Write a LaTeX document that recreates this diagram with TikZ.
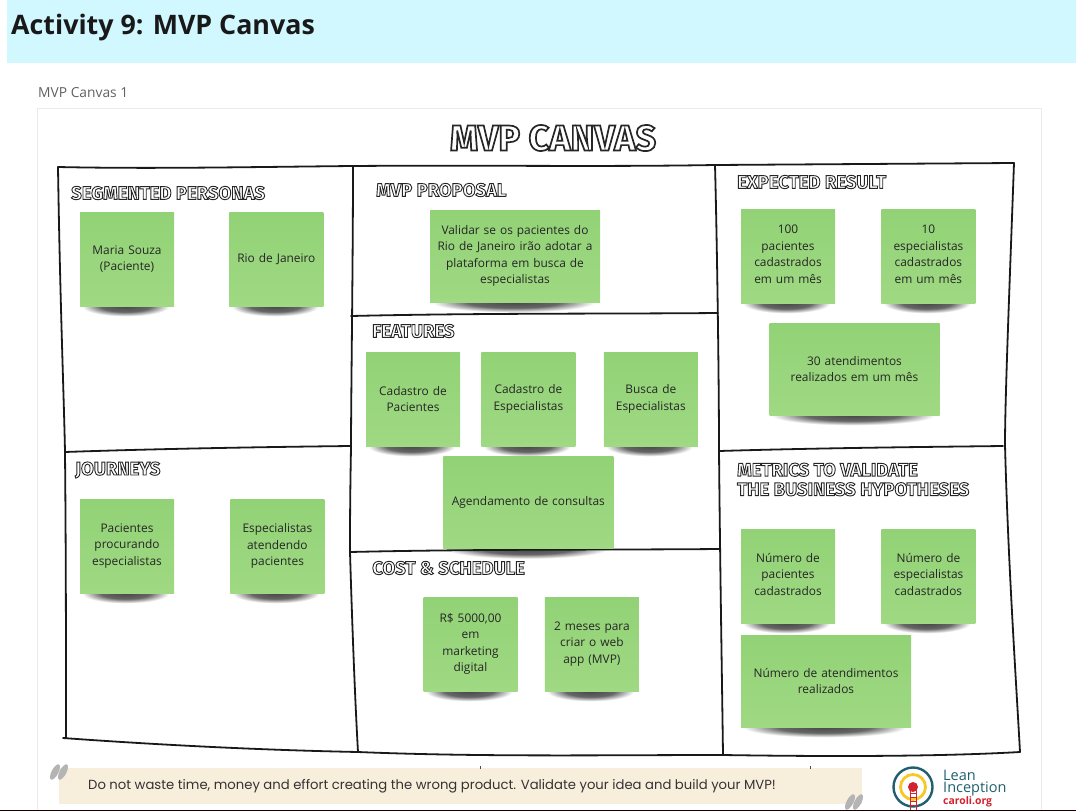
\documentclass[tikz,border=0pt]{standalone}
\usepackage{fontspec}
\setmainfont{Open Sans}
\newfontfamily\headfont{Fira Sans}
\newfontfamily\notefont{Poppins}
\usetikzlibrary{positioning,backgrounds}
\definecolor{headerblue}{HTML}{D1F7FF}
\definecolor{stickytop}{HTML}{92D276}
\definecolor{stickybottom}{HTML}{9FD983}
\definecolor{bannerbeige}{HTML}{F8EEDC}
\definecolor{quotegray}{HTML}{B4B4B4}
\definecolor{logoteal}{HTML}{1F5F6E}
\definecolor{logoyellow}{HTML}{F5C928}
\definecolor{logored}{HTML}{D3212D}
\pgfdeclareradialshading{stickyshadow}{\pgfpoint{0bp}{0bp}}{color(0bp)=(black!72); color(14bp)=(black!60); color(25bp)=(white); color(50bp)=(white)}
\tikzset{
  sticky/.style={top color=stickytop,bottom color=stickybottom,inner sep=2pt,
    align=center,font=\fontsize{11.9}{16.5}\selectfont,text=black!85,
    minimum width=94pt,minimum height=94pt,text width=88pt},
  wide/.style={minimum width=170pt,minimum height=92pt,text width=160pt},
  heading/.style={anchor=west,inner sep=0pt,align=left,text=white,
    font=\headfont\bfseries\fontsize{18.5}{19.5}\selectfont},
  canvasline/.style={draw=black!90,line width=1.8pt,line cap=round},
}
\newcommand{\outlined}[2]{\special{pdf:code 2 Tr #1 w 0.15 0.15 0.15 RG}#2\special{pdf:code 0 Tr 1 w}}
\newcommand{\lifted}{\rule[-4pt]{0pt}{4pt}}
\newcommand{\newSticky}[4]{
  \node[sticky,#3](#1)[#4]{#2};
  \begin{scope}[on background layer]
    \shade[shading=stickyshadow] ([xshift=2pt,yshift=10pt]#1.south west) rectangle ([xshift=-5pt,yshift=-10pt]#1.south east);
  \end{scope}}
\newcommand{\newHeading}[3]{\node[heading](#1) at (#2){\outlined{0.9}{#3}};}
\begin{document}
\begin{tikzpicture}[x=1pt,y=-1pt]
  \useasboundingbox (0,0) rectangle (1076,811);
  % page
  \fill[headerblue] (7,0) rectangle (1076,63);
  \draw[black!8] (37,108) rectangle (1041,815);
  \node[anchor=west,inner sep=0pt,font=\bfseries\fontsize{26.8}{30}\selectfont,text=black!90](activity) at (11,27.5){Activity 9: MVP Canvas};
  \node[anchor=west,inner sep=0pt,font=\fontsize{13.8}{15}\selectfont,text=black!62](canvasname) at (38,93){MVP Canvas 1};
  \node[inner sep=0pt,text=white,font=\headfont\bfseries\fontsize{36}{38}\selectfont](title) at (553,138){\outlined{1.7}{MVP CANVAS}};

  % canvas lines
  \coordinate (tl) at (58,167);
  \coordinate (tm) at (353,166);
  \coordinate (tn) at (715,165);
  \coordinate (tr) at (1014,163);
  \coordinate (bl) at (63,738);
  \coordinate (bm) at (358,752);
  \coordinate (bn) at (723,755);
  \coordinate (br) at (1020,752);
  \draw[canvasline] (tl) .. controls (150,169) and (250,167) .. (tm) .. controls (480,165) and (600,167) .. (tn) -- (tr);
  \draw[canvasline] (tl) .. controls (60,300) and (64,400) .. (65,452) .. controls (66,560) and (66,650) .. (66,738);
  \draw[canvasline] (bl) .. controls (160,745) and (260,750) .. (bm) .. controls (480,757) and (600,755) .. (bn) .. controls (850,757) and (950,756) .. (br);
  \draw[canvasline] (tm) .. controls (353,260) and (351,400) .. (351,448) .. controls (350,500) and (350,530) .. (350,552) .. controls (352,620) and (355,700) .. (bm);
  \draw[canvasline] (tn) .. controls (717,240) and (719,380) .. (719,450) .. controls (720,560) and (722,680) .. (bn);
  \draw[canvasline] (tr) .. controls (1009,300) and (1005,400) .. (1005,445) .. controls (1008,560) and (1016,680) .. (br);
  \draw[canvasline] (65,452) .. controls (150,449) and (260,447) .. (351,446);
  \draw[canvasline] (351,316) .. controls (480,313) and (600,314) .. (718,313);
  \draw[canvasline] (350,552) .. controls (480,549) and (600,550) .. (719,549);
  \draw[canvasline] (719,451) .. controls (820,448) and (920,447) .. (1003,446);

  % headings
  \newHeading{personasHead}{71,193}{SEGMENTED PERSONAS}
  \newHeading{journeysHead}{75,470}{JOURNEYS}
  \newHeading{proposalHead}{376,190}{MVP PROPOSAL}
  \newHeading{featuresHead}{372,331}{FEATURES}
  \newHeading{costHead}{372,568}{COST \& SCHEDULE}
  \newHeading{resultHead}{737,182}{EXPECTED RESULT}
  \newHeading{metricsHead}{737,479.5}{METRICS TO VALIDATE\\THE BUSINESS HYPOTHESES}

  % personas and journeys
  \newSticky{maria}{Maria Souza\\(Paciente)}{at={(127,259)}}{}
  \newSticky{rio}{Rio de Janeiro}{}{right=55pt of maria}
  \newSticky{pacientes}{Pacientes\\procurando\\especialistas}{at={(127,546)}}{}
  \newSticky{atendendo}{Especialistas\\atendendo\\pacientes}{}{right=56pt of pacientes}

  % proposal
  \newSticky{proposal}{Validar se os pacientes do\\Rio de Janeiro irão adotar a\\plataforma em busca de\\especialistas}{wide,at={(515,256)}}{}

  % features
  \newSticky{cadPac}{Cadastro de\\Pacientes}{at={(413,399)}}{}
  \newSticky{cadEsp}{Cadastro de\\Especialistas}{}{right=21pt of cadPac}
  \newSticky{busca}{Busca de\\Especialistas}{}{right=28pt of cadEsp}
  \newSticky{agenda}{Agendamento de consultas}{wide}{below=10pt of cadEsp}

  % cost
  \newSticky{custo}{R\$ 5000,00\\em\\marketing\\digital}{at={(470.5,644)}}{}
  \newSticky{prazo}{2 meses para\\criar o web\\app (MVP)}{}{right=27pt of custo}

  % result
  \newSticky{cemPac}{100\\pacientes\\cadastrados\\em um mês\lifted}{at={(788,256)}}{}
  \newSticky{dezEsp}{10\\especialistas\\cadastrados\\em um mês\lifted}{}{right=46pt of cemPac}
  \newSticky{atend}{30 atendimentos\\realizados em um mês}{wide,at={(854.5,369)}}{}

  % metrics
  \newSticky{numPac}{Número de\\pacientes\\cadastrados\lifted}{at={(788,576)}}{}
  \newSticky{numEsp}{Número de\\especialistas\\cadastrados\lifted}{}{right=46pt of numPac}
  \newSticky{numAte}{Número de atendimentos\\realizados}{wide,at={(826,681)}}{}

  % bottom banner
  \fill[bannerbeige] (59,768) rectangle (862,804);
  \draw[black!70] (480,766) -- (480,769);
  \draw[black!70] (810,766) -- (810,769);
  \node[anchor=west,inner sep=0pt,text=black!80,font=\notefont\fontsize{13.2}{16}\selectfont](slogan) at (88,786.5){Do not waste time, money and effort creating the wrong product. Validate your idea and build your MVP!};
  \foreach \qx/\qy in {55/772,63/772,850/802,858/802}
    \fill[quotegray] (\qx,\qy) ellipse [x radius=3.4pt,y radius=8.5pt,rotate=-28];

  % logo
  \draw[logoteal,line width=2.4pt] (913,787) circle (19.5pt);
  \draw[logoyellow,line width=2.8pt] (913,787) circle (12.5pt);
  \fill[logored] (913,787) circle (5pt);
  \draw[logored,line width=.8pt] (910,790) -- (910,810) (916,790) -- (916,810);
  \foreach \ly in {793,797,801,805}
    \draw[logored,line width=.8pt] (910,\ly) -- (916,\ly);
  \node[anchor=west,inner sep=0pt,text=logoteal,font=\fontsize{14.5}{14}\selectfont](leanWord) at (943,775){Lean};
  \node[anchor=west,inner sep=0pt,text=logoteal,font=\fontsize{14.5}{14}\selectfont](inceptionWord) at (943,789){Inception};
  \node[anchor=west,inner sep=0pt,text=logored,font=\bfseries\fontsize{10.4}{12}\selectfont](caroliWord) at (943,802){caroli.org};
  \fill[black!90!red] (0,810) rectangle (1076,811);
\end{tikzpicture}
\end{document}
